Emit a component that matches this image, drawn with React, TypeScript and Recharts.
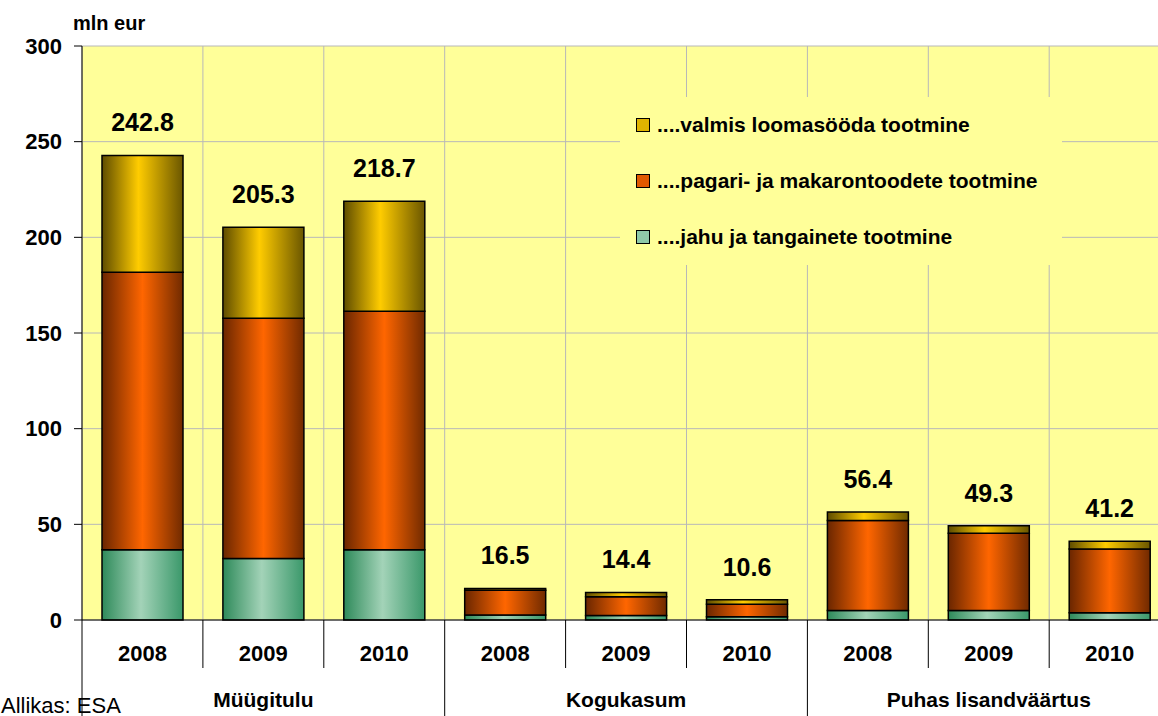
import React from 'react';
import { BarChart, Bar, XAxis, YAxis, CartesianGrid, LabelList } from 'recharts';

// andmed graafikult loetud (mln eur)
const years = ['2008', '2009', '2010', '2008', '2009', '2010', '2008', '2009', '2010'];
const groups = ['Müügitulu', 'Kogukasum', 'Puhas lisandväärtus'];
const jahu = [36.7, 32.1, 36.7, 2.6, 2.4, 1.7, 4.9, 4.9, 3.8];
const pagari = [145.1, 125.6, 124.7, 13.0, 9.8, 6.5, 47.1, 40.5, 33.3];
const loomasooda = [61.0, 47.6, 57.4, 0.9, 2.2, 2.4, 4.4, 3.9, 4.1];
const totals = [242.8, 205.3, 218.7, 16.5, 14.4, 10.6, 56.4, 49.3, 41.2];
const yTicks = [0, 50, 100, 150, 200, 250, 300];

const series = [
  { key: 'jahu', name: '....jahu ja tangainete tootmine', grad: 'gGreen', swatch: '#8fc9a8' },
  { key: 'pagari', name: '....pagari- ja makarontoodete tootmine', grad: 'gOrange', swatch: '#e05a00' },
  { key: 'loomasooda', name: '....valmis loomasööda tootmine', grad: 'gGold', swatch: '#e0b400' },
];

const data = years.map((y, i) => ({
  id: `${groups[Math.floor(i / 3)]}-${y}`,
  jahu: jahu[i],
  pagari: pagari[i],
  loomasooda: loomasooda[i],
}));

const FONT = '"Liberation Sans", Arial, sans-serif';
const W = 1180;
const H = 716;
const LEFT = 82;
const TOP = 46;
const XAXIS_H = 96;
const PLOT_W = 9 * 120.9;
const PLOT_BOTTOM = H - XAXIS_H;
const BAND = PLOT_W / 9;

const CatTick = (props: any) => {
  const { x, index } = props;
  const left = x - BAND / 2;
  const right = x + BAND / 2;
  const isGroupStart = index % 3 === 0;
  return (
    <g>
      <line x1={left} x2={left} y1={PLOT_BOTTOM} y2={isGroupStart ? H : 668} stroke="#000" strokeWidth={1} />
      {index === 8 && <line x1={right} x2={right} y1={PLOT_BOTTOM} y2={H} stroke="#000" strokeWidth={1} />}
      <text x={x} y={661} textAnchor="middle" fontFamily={FONT} fontWeight="bold" fontSize={22} fill="#000">
        {years[index]}
      </text>
      {index % 3 === 1 && (
        <text x={x} y={707} textAnchor="middle" fontFamily={FONT} fontWeight="bold" fontSize={21} fill="#000">
          {groups[Math.floor(index / 3)]}
        </text>
      )}
    </g>
  );
};

const TotalLabel = (props: any) => {
  const { x, y, width, index } = props;
  return (
    <text
      x={x + width / 2}
      y={y - 33}
      textAnchor="middle"
      dominantBaseline="central"
      fontFamily={FONT}
      fontWeight="bold"
      fontSize={25}
      fill="#000"
    >
      {totals[index].toFixed(1)}
    </text>
  );
};

export default function App() {
  return (
    <div style={{ position: 'fixed', left: 0, top: 0, width: 1158, height: 716, overflow: 'hidden', background: '#fff' }}>
      <div style={{ position: 'absolute', left: 0, top: 0, width: W, height: H }}>
        <BarChart
          width={W}
          height={H}
          data={data}
          margin={{ top: TOP, right: W - LEFT - PLOT_W, left: LEFT - 72, bottom: 0 }}
          barSize={81}
        >
          <defs>
            <linearGradient id="gGold" x1="0" y1="0" x2="1" y2="0">
              <stop offset="0" stopColor="#5e4c00" />
              <stop offset="0.45" stopColor="#ffcc00" />
              <stop offset="1" stopColor="#6a5600" />
            </linearGradient>
            <linearGradient id="gOrange" x1="0" y1="0" x2="1" y2="0">
              <stop offset="0" stopColor="#6a2600" />
              <stop offset="0.5" stopColor="#ff6600" />
              <stop offset="1" stopColor="#702a00" />
            </linearGradient>
            <linearGradient id="gGreen" x1="0" y1="0" x2="1" y2="0">
              <stop offset="0" stopColor="#2e8a5a" />
              <stop offset="0.48" stopColor="#a3d3b8" />
              <stop offset="1" stopColor="#3a986a" />
            </linearGradient>
          </defs>
          <CartesianGrid
            stroke="#b8b8b8"
            strokeWidth={1}
            fill="#ffff99"
            fillOpacity={1}
            verticalCoordinatesGenerator={({ offset }: any) =>
              Array.from({ length: 10 }, (_, i) => offset.left + (i * offset.width) / 9)
            }
          />
          <XAxis
            dataKey="id"
            interval={0}
            height={XAXIS_H}
            tickLine={false}
            axisLine={{ stroke: '#000' }}
            tick={<CatTick />}
          />
          <YAxis
            width={72}
            domain={[0, 300]}
            ticks={yTicks}
            interval={0}
            tickSize={8}
            tickMargin={12}
            axisLine={{ stroke: '#000' }}
            tickLine={{ stroke: '#000' }}
            tick={{ fill: '#000', fontFamily: FONT, fontWeight: 'bold', fontSize: 22 }}
          />
          {series.map((s, i) => (
            <Bar
              key={s.key}
              dataKey={s.key}
              name={s.name}
              stackId="a"
              fill={`url(#${s.grad})`}
              stroke="#000"
              strokeWidth={1.5}
              isAnimationActive={false}
            >
              {i === series.length - 1 && <LabelList content={<TotalLabel />} />}
            </Bar>
          ))}
        </BarChart>
      </div>

      <div
        style={{
          position: 'absolute',
          left: 620,
          top: 97,
          width: 442,
          height: 168,
          background: '#ffff99',
          fontFamily: FONT,
          fontWeight: 'bold',
          fontSize: 21,
          color: '#000',
        }}
      >
        {[...series].reverse().map((s, i) => (
          <div
            key={s.key}
            style={{ position: 'absolute', left: 16, top: 16 + i * 56, height: 24, display: 'flex', alignItems: 'center', whiteSpace: 'nowrap' }}
          >
            <span style={{ display: 'inline-block', width: 12, height: 12, background: s.swatch, border: '1px solid #000', marginRight: 7 }} />
            {s.name}
          </div>
        ))}
      </div>

      <svg style={{ position: 'absolute', left: 0, top: 0, pointerEvents: 'none' }} width={1158} height={716}>
        <text x={73} y={30} fontFamily={FONT} fontWeight="bold" fontSize={20} fill="#000">mln eur</text>
        <text x={1} y={713} fontFamily={FONT} fontSize={22} fill="#000">Allikas: ESA</text>
      </svg>
    </div>
  );
}
